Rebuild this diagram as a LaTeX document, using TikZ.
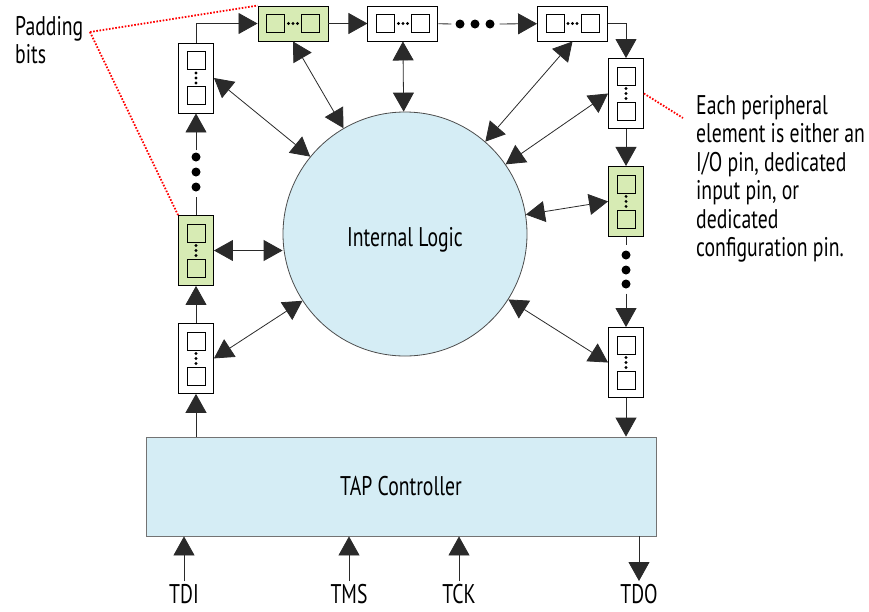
\documentclass[tikz,border=0pt]{standalone}
\usepackage{fontspec}
\setmainfont{PT Sans}[FakeStretch=0.73]
\usetikzlibrary{positioning,arrows.meta}
\definecolor{logicblue}{HTML}{D5EDF5}
\definecolor{padgreen}{HTML}{D7EBB4}
\definecolor{wirecol}{HTML}{2A2A2A}

\begin{document}
\begin{tikzpicture}[
x=1pt, y=-1pt,
font=\fontsize{27}{28.5}\selectfont,
node distance=37pt and 39pt,
sq/.style={draw, anchor=center, minimum size=18pt, inner sep=0pt, line width=0.8pt},
vcell/.style={draw, line width=0.9pt, fill=white, minimum width=35pt, minimum height=70pt, inner sep=0pt,
  path picture={
    \node[sq] at ([yshift=17.5pt]path picture bounding box.center) {};
    \node[sq] at ([yshift=-17.5pt]path picture bounding box.center) {};
    \foreach \d in {-5,0,5}
      \fill[black] ([yshift=\d pt]path picture bounding box.center) circle (1.6pt);
  }},
hcell/.style={draw, line width=0.9pt, fill=white, minimum width=70pt, minimum height=35pt, inner sep=0pt,
  path picture={
    \node[sq] at ([xshift=17.5pt]path picture bounding box.center) {};
    \node[sq] at ([xshift=-17.5pt]path picture bounding box.center) {};
    \foreach \d in {-4.5,0,4.5}
      \fill[black] ([xshift=\d pt]path picture bounding box.center) circle (1.6pt);
  }},
padcell/.style={fill=padgreen},
dot/.style={circle, fill=black, inner sep=0pt, minimum size=9pt},
wire/.style={draw=wirecol, line width=0.8pt},
arrow/.style={wire, -{Triangle[length=19pt,width=21pt]}},
biarrow/.style={wire, {Triangle[length=19pt,width=21pt]}-{Triangle[length=19pt,width=21pt]}},
note/.style={red, line width=1.8pt, dash pattern=on 1.6pt off 1.6pt},
txt/.style={align=left, anchor=north west, inner sep=0pt}
]
\useasboundingbox (0,0) rectangle (869,611);

% core and controller
\node[circle, draw=black!70, fill=logicblue, line width=0.8pt, minimum size=244pt, inner sep=0pt, text height=31pt] (logic) at (405,234) {Internal Logic};
\node[draw=black!55, fill=logicblue, line width=0.8pt, minimum width=510pt, minimum height=99pt] (tap) at (401,486.5) {TAP Controller};

% boundary cells
\node[hcell, padcell] (T1) at (293,23.5) {};
\node[hcell, right=39pt of T1] (T2) {};
\node[hcell] (T3) at (572.5,23.5) {};
\node[vcell] (L1) at (196,78) {};
\node[vcell, padcell] (L2) at (196,250.5) {};
\node[vcell, below=37pt of L2] (L3) {};
\node[vcell] (R1) at (626,93.5) {};
\node[vcell, padcell, below=37pt of R1] (R2) {};
\node[vcell] (R3) at (626,362.5) {};

\node[dot] (ld1) at (196,157) {};
\node[dot] (ld2) at (196,172) {};
\node[dot] (ld3) at (196,187) {};
\node[dot] (td1) at (460,24) {};
\node[dot] (td2) at (475,24) {};
\node[dot] (td3) at (490,24) {};
\node[dot] (rd1) at (626,255) {};
\node[dot] (rd2) at (626,270) {};
\node[dot] (rd3) at (626,284) {};

% scan chain
\draw[arrow] (tap.north -| L3.south) -- (L3.south);
\draw[arrow] (L3) -- (L2);
\draw[wire, shorten >=5pt] (L2) -- (ld3);
\draw[arrow, shorten <=2pt] (ld1) -- (L1);
\draw[arrow] (L1.north) |- (T1.west);
\draw[arrow] (T1) -- (T2);
\draw[wire, shorten >=4pt] (T2) -- (td1);
\draw[arrow, shorten <=5pt] (td3) -- (T3);
\draw[arrow] (T3.east) -| (R1.north);
\draw[arrow] (R1) -- (R2);
\draw[wire, shorten >=5pt] (R2) -- (rd1);
\draw[arrow, shorten <=5pt] (rd3) -- (R3);
\draw[arrow] (R3.south) -- (R3.south |- tap.north);

% links to the core
\draw[biarrow] (L1.east) -- (logic);
\draw[biarrow] (L2.east) -- (L2.east -| logic.west);
\draw[biarrow] (L3.east) -- (logic);
\draw[biarrow] (T1.south) -- (logic);
\draw[biarrow] (T2.south) -- (logic);
\draw[biarrow] (T3.south) -- (logic);
\draw[biarrow] (R1.west) -- (logic);
\draw[biarrow] (R2.west) -- (logic);
\draw[biarrow] (R3.west) -- (logic);

% pins
\node[anchor=north, inner sep=0pt] (tdi) at (184,584) {TDI};
\node[anchor=north, inner sep=0pt] (tms) at (349,584) {TMS};
\node[anchor=north, inner sep=0pt] (tck) at (459,584) {TCK};
\node[anchor=north, inner sep=0pt] (tdo) at (639,584) {TDO};
\draw[arrow] ([yshift=3pt]tdi.north) -- (tdi.north |- tap.south);
\draw[arrow] ([yshift=3pt]tms.north) -- (tms.north |- tap.south);
\draw[arrow] ([yshift=3pt]tck.north) -- (tck.north |- tap.south);
\draw[arrow] (tdo.north |- tap.south) -- ([yshift=3pt]tdo.north);

% annotations
\node[txt] (padtxt) at (15,16) {Padding\\bits};
\coordinate (padend) at (90,32);
\draw[note] (padend) -- (T1.north west);
\draw[note] (padend) -- (L2.north west);
\node[txt] (eltxt) at (696,95) {Each peripheral\\element is either an\\I/O pin, dedicated\\input pin, or\\dedicated\\configuration pin.};
\coordinate (elend) at (683,118);
\draw[note] (R1.east) -- (elend);
\end{tikzpicture}
\end{document}
